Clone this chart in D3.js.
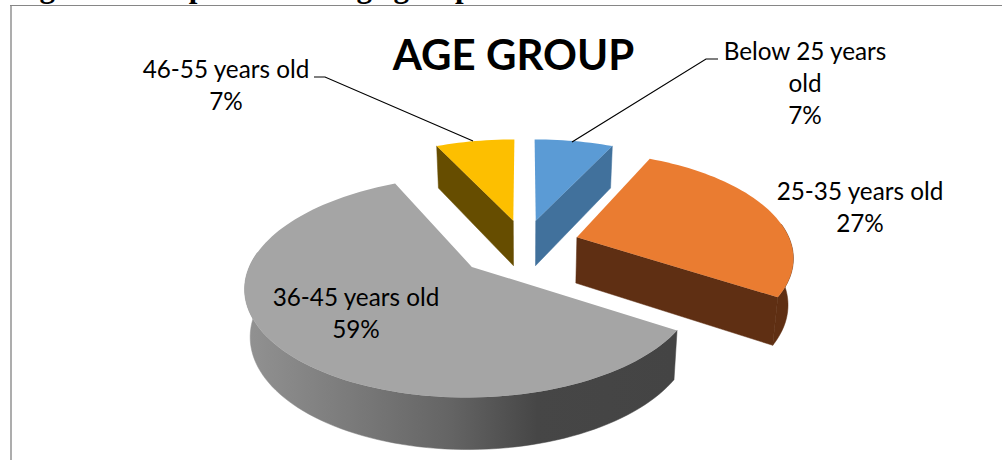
<!DOCTYPE html>
<html>
<head>
<meta charset="utf-8">
<script src="https://cdn.jsdelivr.net/npm/d3@7"></script>
<style>
    html, body { margin: 0; padding: 0; background: #fff; }
    svg { display: block; }
    text { fill: #000; }
    .label { font-family: Lato, sans-serif; font-size: 24.3px; text-anchor: middle; }
    .title { font-family: Lato, sans-serif; font-size: 42px; font-weight: bold; text-anchor: middle; }
    .caption { font-family: "Liberation Serif", serif; font-size: 31px; font-weight: bold; }
</style>
</head>
<body>
<div id="chart"></div>
<script>
// age group shares, clockwise from twelve o'clock
const groups = ["Below 25 years old", "25-35 years old", "36-45 years old", "46-55 years old"];
const shares = [7, 27, 59, 7];
const topColors = ["#5b9bd5", "#ea7c31", "#a5a5a5", "#fdbf00"];
const wallColors = ["#41719c", "#5f2f13", "url(#grayWall)", "#664d00"];

const width = 1002, height = 460;
const svg = d3.select("#chart").append("svg").attr("width", width).attr("height", height);

// chart frame, only the left and top edges are on the page
svg.append("line")
    .attr("x1", 11).attr("x2", 11).attr("y1", 5).attr("y2", height)
    .attr("stroke", "#adadad")
    .attr("stroke-width", 2);
svg.append("line")
    .attr("x1", 10).attr("x2", width).attr("y1", 5.5).attr("y2", 5.5)
    .attr("stroke", "#868686")
    .attr("stroke-width", 1);

// caption above the frame, mostly cut off by the page edge
const caption = svg.append("text").attr("class", "caption").attr("y", -3.5);
caption.append("tspan").attr("x", 12).text("Figure 1: Respondents");
caption.append("tspan").attr("x", 341).text("age group");

svg.append("text").attr("class", "title").attr("x", 513.5).attr("y", 70).text("AGE GROUP");

const grad = svg.append("defs").append("linearGradient")
    .attr("id", "grayWall")
    .attr("gradientUnits", "userSpaceOnUse")
    .attr("x1", 245).attr("x2", 675).attr("y1", 0).attr("y2", 0);
[[0, "#929292"], [0.48, "#646464"], [0.68, "#464646"], [1, "#444444"]].forEach(s => {
    grad.append("stop").attr("offset", s[0]).attr("stop-color", s[1]);
});

// tilted plane: u to the right, v toward the viewer, unit circle is the pie rim
const centerX = 524.5, centerY = 245;
const explodeX = 59, explodeY = 28.5, explodeTilt = 0.15;
const radiusX = 212, radiusY = 101, rimTilt = 0.18, rimLean = 0.1;
const sliceScaleX = [1, 1, 1.05, 1];
const sliceScaleY = [0.95, 1, 1.06, 0.95];
const sliceNudge = [[0, 0], [-2, 0], [-3.5, 1], [0, 0]];

function apexOf(mid, nudge) {
    const u = Math.sin(mid), v = -Math.cos(mid), w = 1 - explodeTilt * v;
    return [centerX + explodeX * u / w + nudge[0], centerY + explodeY * v / w + nudge[1]];
}

// slices away from the middle lean toward the vanishing point
function rimPoint(apex, angle, i) {
    const u = Math.sin(angle), v = -Math.cos(angle), w = 1 - rimTilt * v;
    const lean = rimLean * (apex[0] - centerX) * v;
    return [apex[0] + sliceScaleX[i] * radiusX * u / w + lean, apex[1] + sliceScaleY[i] * radiusY * v / w];
}

// lower face of the disc, thickness grows toward the viewer
function lower(p) {
    return [centerX + (p[0] - centerX) * 0.98, p[1] + 42 + (p[1] - 146) * 0.04];
}

const pie = d3.pie().sort(null)(shares);
const line = d3.line();

const slices = pie.map((d, i) => {
    const mid = (d.startAngle + d.endAngle) / 2;
    const apex = apexOf(mid, sliceNudge[i]);
    const steps = Math.max(4, Math.ceil((d.endAngle - d.startAngle) * 30));
    const angles = d3.range(steps + 1).map(k => d.startAngle + (d.endAngle - d.startAngle) * k / steps);
    const rim = angles.map(a => rimPoint(apex, a, i));
    // the far part of the rim is never seen
    const front = angles.filter(a => -Math.cos(a) > -0.15).map(a => rimPoint(apex, a, i));
    return {i: i, start: d.startAngle, end: d.endAngle, apex: apex, rim: rim, front: front, depth: -Math.cos(mid)};
}).sort((a, b) => a.depth - b.depth);

const sliceGroups = svg.selectAll("g.slice").data(slices).enter().append("g").attr("class", "slice");

// side faces go first, the top face then hides what is behind it
sliceGroups.filter(d => d.front.length > 1).append("path")
    .attr("d", d => line(d.front.concat(d.front.map(lower).reverse())) + "Z")
    .attr("fill", d => wallColors[d.i])
    .attr("stroke", d => wallColors[d.i])
    .attr("stroke-width", 0.5);

// a cut wall only shows when its normal points toward the viewer
sliceGroups.append("path")
    .attr("d", d => {
        const a = d.rim[0], b = d.rim[d.rim.length - 1];
        let walls = "";
        if (Math.sin(d.start) < -1e-6) walls += line([d.apex, a, lower(a), lower(d.apex)]) + "Z";
        if (Math.sin(d.end) > 1e-6) walls += line([d.apex, b, lower(b), lower(d.apex)]) + "Z";
        return walls;
    })
    .attr("fill", d => wallColors[d.i])
    .attr("stroke", d => wallColors[d.i])
    .attr("stroke-width", 0.5);

sliceGroups.append("path")
    .attr("d", d => line([d.apex].concat(d.rim)) + "Z")
    .attr("fill", d => topColors[d.i]);

// leader lines for the two small slices
const leaders = [
    [[718, 59], [706, 59], [572, 142]],
    [[314, 77], [325, 77], [473, 141]]
];
svg.selectAll("path.leader").data(leaders).enter().append("path")
    .attr("class", "leader")
    .attr("d", line)
    .attr("fill", "none")
    .attr("stroke", "#000")
    .attr("stroke-width", 1.2);

// data labels: one entry per slice, wrapped lines and the share underneath
const labelSpots = [
    {x: 805, y: 60, lines: ["Below 25 years", "old"]},
    {x: 860, y: 200, lines: [groups[1]]},
    {x: 356, y: 306, lines: [groups[2]]},
    {x: 226, y: 78, lines: [groups[3]]}
];
labelSpots.forEach((spot, i) => {
    const rows = spot.lines.concat(shares[i] + "%");
    const t = svg.append("text").attr("class", "label");
    rows.forEach((row, r) => {
        t.append("tspan").attr("x", spot.x).attr("y", spot.y + r * 32).text(row);
    });
});
</script>
</body>
</html>
